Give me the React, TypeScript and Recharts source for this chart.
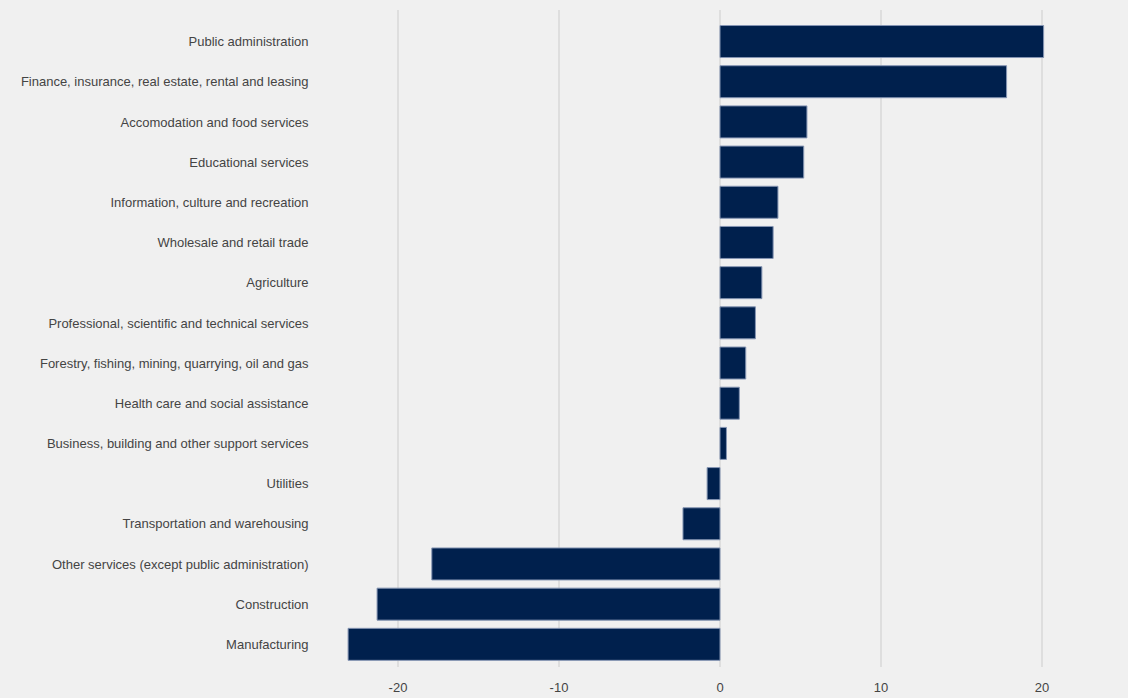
import React from 'react';
import { BarChart, Bar, XAxis, YAxis, CartesianGrid } from 'recharts';

const categories = [
  'Public administration',
  'Finance, insurance, real estate, rental and leasing',
  'Accomodation and food services',
  'Educational services',
  'Information, culture and recreation',
  'Wholesale and retail trade',
  'Agriculture',
  'Professional, scientific and technical services',
  'Forestry, fishing, mining, quarrying, oil and gas',
  'Health care and social assistance',
  'Business, building and other support services',
  'Utilities',
  'Transportation and warehousing',
  'Other services (except public administration)',
  'Construction',
  'Manufacturing',
];

const values = [20.1, 17.8, 5.4, 5.2, 3.6, 3.3, 2.6, 2.2, 1.6, 1.2, 0.4, -0.8, -2.3, -17.9, -21.3, -23.1];

const xTicks = [-20, -10, 0, 10, 20];
const xDomain: [number, number] = [-25, 25];

const data = categories.map((name, i) => ({ name, value: values[i] }));

const gridX = (props: any) => {
  const xAxis = props?.xAxis;
  if (xAxis && typeof xAxis.scale === 'function') {
    return xTicks.map((t) => xAxis.scale(t));
  }
  const off = props?.offset || {};
  return xTicks.map((t) => off.left + ((t - xDomain[0]) / (xDomain[1] - xDomain[0])) * off.width);
};

export default function App() {
  return (
    <div
      style={{
        position: 'fixed',
        left: 0,
        top: 0,
        width: 1128,
        height: 698,
        background: '#f0f0f0',
      }}
    >
      <BarChart
        width={1128}
        height={698}
        data={data}
        layout="vertical"
        margin={{ top: 10, right: 5.5, bottom: 0, left: 0 }}
        barCategoryGap="10%"
      >
        <CartesianGrid
          horizontal={false}
          stroke="#cccccc"
          strokeWidth={1}
          verticalCoordinatesGenerator={gridX}
        />
        <XAxis
          type="number"
          domain={xDomain}
          ticks={xTicks}
          axisLine={false}
          tickLine={false}
          tickSize={0}
          tickMargin={16}
          height={31}
          tick={{ fill: '#444444', fontSize: 13, fontFamily: 'Arial, "Liberation Sans", sans-serif' }}
          interval={0}
        />
        <YAxis
          type="category"
          dataKey="name"
          width={317.5}
          axisLine={false}
          tickLine={false}
          tickSize={0}
          tickMargin={9}
          interval={0}
          padding={{ top: 11.5, bottom: 2.5 }}
          tick={{ fill: '#444444', fontSize: 13, fontFamily: 'Arial, "Liberation Sans", sans-serif' }}
        />
        <Bar
          dataKey="value"
          fill="#00204d"
          stroke="#8595b3"
          strokeWidth={1}
          isAnimationActive={false}
        />
      </BarChart>
    </div>
  );
}
